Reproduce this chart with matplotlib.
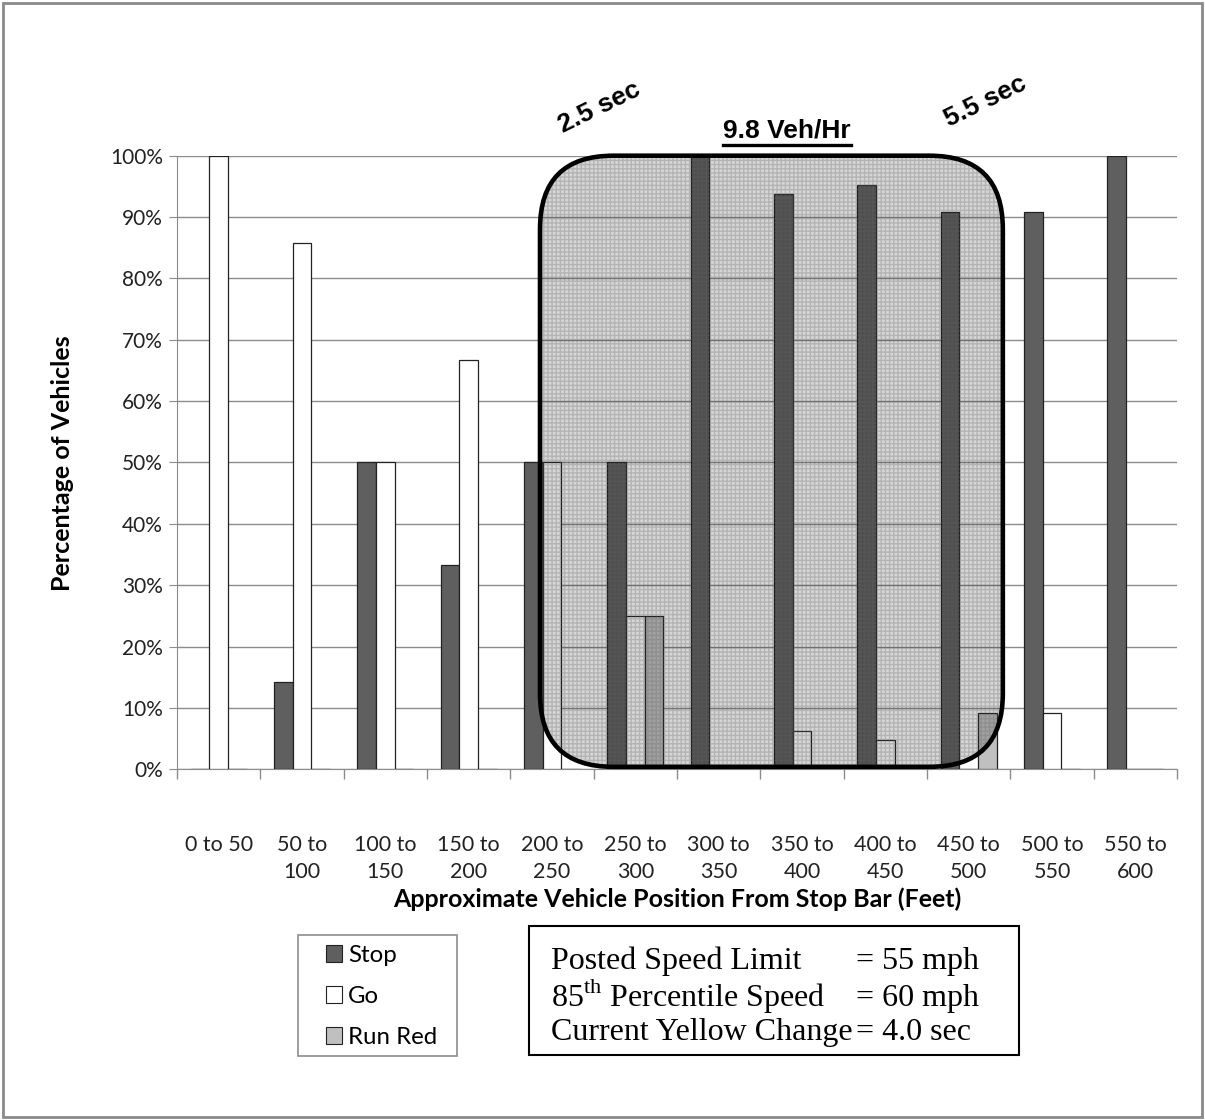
import numpy as np
import matplotlib.pyplot as plt
from matplotlib.patches import FancyBboxPatch, Rectangle, Patch
from matplotlib.lines import Line2D

categories = ['0 to 50', '50 to\n100', '100 to\n150', '150 to\n200', '200 to\n250', '250 to\n300',
              '300 to\n350', '350 to\n400', '400 to\n450', '450 to\n500', '500 to\n550', '550 to\n600']
stop = [0, 14.3, 50, 33.3, 50, 50, 100, 93.75, 95.2, 90.9, 90.9, 100]
go = [100, 85.7, 50, 66.7, 50, 25, 0, 6.25, 4.8, 0, 9.1, 0]
run_red = [0, 0, 0, 0, 0, 25, 0, 0, 0, 9.1, 0, 0]
y_ticks = [0, 10, 20, 30, 40, 50, 60, 70, 80, 90, 100]

W, H = 1205, 1120
def fx(px):
    return px / W
def fy(py):
    return 1 - py / H

plt.rcParams['font.family'] = ['Lato', 'DejaVu Sans']
plt.rcParams['mathtext.fontset'] = 'custom'
plt.rcParams['mathtext.rm'] = 'Liberation Serif'
fig = plt.figure(figsize=(W / 100, H / 100), dpi=100)
ax = fig.add_axes([fx(177), fy(769.3), fx(1177) - fx(177), fy(155.7) - fy(769.3)])

x = np.arange(len(categories))
w = 0.225
gray = '#8c8c8c'
ax.bar(x - w, stop, w, color='#5f5f5f', edgecolor='#222222', linewidth=0.9, zorder=3, label='Stop')
ax.bar(x, go, w, color='white', edgecolor='#222222', linewidth=0.9, zorder=3, label='Go')
ax.bar(x + w, run_red, w, color='#c0c0c0', edgecolor='#222222', linewidth=0.9, zorder=3, label='Run Red')

ax.set_xlim(-0.5, len(categories) - 0.5)
ax.set_ylim(0, 100)
ax.set_yticks(y_ticks, [f'{v}%' for v in y_ticks])
ax.yaxis.grid(True, color=gray, linewidth=1.0, zorder=0)
ax.set_axisbelow(True)
ax.tick_params(axis='y', length=6, color=gray, labelsize=15, pad=4, labelcolor='#222222')

ax.set_xticks(x, categories)
ax.set_xticks(np.arange(-0.5, len(categories), 1), minor=True)
ax.tick_params(axis='x', which='major', length=0, pad=47, labelsize=15.5, labelcolor='#222222')
ax.tick_params(axis='x', which='minor', length=7, color=gray, width=1)
for lab in ax.get_xticklabels():
    lab.set_linespacing(1.45)

for s in ['top', 'right']:
    ax.spines[s].set_visible(False)
for s in ['left', 'bottom']:
    ax.spines[s].set_color(gray)

fig.text(fx(677), fy(899), 'Approximate Vehicle Position From Stop Bar (Feet)', fontsize=18,
         fontweight='bold', ha='center', va='center')
fig.text(fx(62), fy(463), 'Percentage of Vehicles', fontsize=18, fontweight='bold',
         rotation=90, ha='center', va='center')

# highlighted zone (rounded box)
x0, x1 = 3.856, 9.41
y0, y1 = 0.4, 100
r = 0.88
asp = 83.33 / 6.14
zone = FancyBboxPatch((x0, y0), x1 - x0, y1 - y0, boxstyle=f'round,pad=0,rounding_size={r}',
                      mutation_aspect=asp, facecolor='black', alpha=0.16, edgecolor='none',
                      zorder=4, clip_on=False)
ax.add_patch(zone)
dots = FancyBboxPatch((x0, y0), x1 - x0, y1 - y0, boxstyle=f'round,pad=0,rounding_size={r}',
                      mutation_aspect=asp, facecolor='none', edgecolor='#666666', hatch='++++',
                      linewidth=0, alpha=0.3, zorder=4, clip_on=False)
ax.add_patch(dots)
edge = FancyBboxPatch((x0, y0), x1 - x0, y1 - y0, boxstyle=f'round,pad=0,rounding_size={r}',
                      mutation_aspect=asp, facecolor='none', edgecolor='black', linewidth=3.3,
                      zorder=5, clip_on=False)
ax.add_patch(edge)

fig.text(fx(599), fy(107), '2.5 sec', fontsize=19, fontweight='bold', family='Liberation Sans',
         rotation=26, ha='center', va='center')
fig.text(fx(985), fy(101), '5.5 sec', fontsize=19, fontweight='bold', family='Liberation Sans',
         rotation=26, ha='center', va='center')
t = fig.text(fx(787), fy(131), '9.8 Veh/Hr', fontsize=19, fontweight='bold', family='Liberation Sans',
             ha='center', va='center')
fig.canvas.draw()
bb = t.get_window_extent()
fig.add_artist(Line2D([bb.x0 / W, bb.x1 / W], [(bb.y0 - 2) / H, (bb.y0 - 2) / H],
                      transform=fig.transFigure, color='black', linewidth=2.4))

# legend
fig.add_artist(Rectangle((fx(298), fy(1056)), fx(457) - fx(298), fy(935) - fy(1056),
                         transform=fig.transFigure, facecolor='white', edgecolor=gray, linewidth=1.2))
handles = [Patch(facecolor='#5f5f5f', edgecolor='#222222', linewidth=0.8),
           Patch(facecolor='white', edgecolor='#222222', linewidth=0.8),
           Patch(facecolor='#c0c0c0', edgecolor='#222222', linewidth=0.8)]
fig.legend(handles, ['Stop', 'Go', 'Run Red'], loc='upper left', bbox_to_anchor=(fx(326), fy(945)),
           frameon=False, fontsize=17.3, handlelength=0.67, handleheight=0.67, handletextpad=0.25,
           labelspacing=0.83, borderpad=0, borderaxespad=0)

# info box
fig.add_artist(Rectangle((fx(529), fy(1055)), fx(1019) - fx(529), fy(926) - fy(1055),
                         transform=fig.transFigure, facecolor='white', edgecolor='black', linewidth=1.5))
left_txt = ['Posted Speed Limit', r'85$^{\mathrm{th}}$ Percentile Speed', 'Current Yellow Change']
right_txt = ['= 55 mph', '= 60 mph', '= 4.0 sec']
rows = [969, 1006, 1040]
for lt, rt, yy in zip(left_txt, right_txt, rows):
    fig.text(fx(551), fy(yy), lt, fontsize=23, family='Liberation Serif', va='baseline', ha='left')
    fig.text(fx(856), fy(yy), rt, fontsize=23, family='Liberation Serif', va='baseline', ha='left')

# outer border
fig.add_artist(Rectangle((fx(3), fy(1117)), fx(1202) - fx(3), fy(3) - fy(1117),
                         transform=fig.transFigure, facecolor='none', edgecolor='#8a8a8a', linewidth=2))

fig.savefig('out.png', dpi=100)
